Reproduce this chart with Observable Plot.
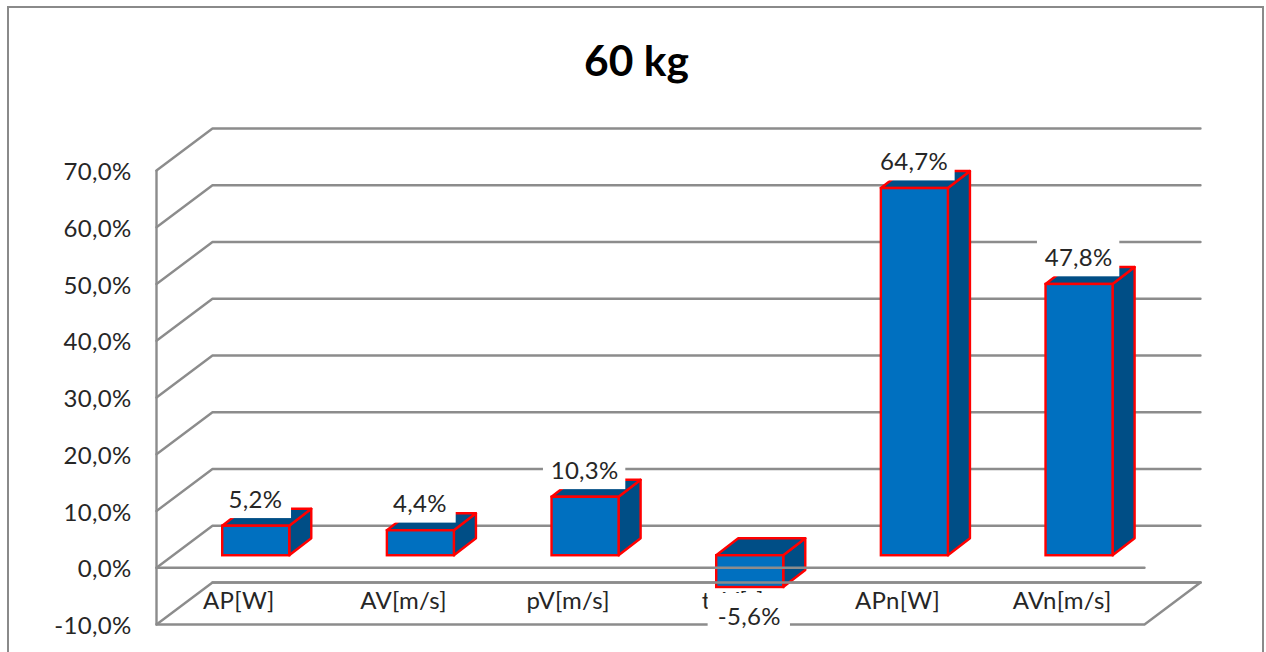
<!DOCTYPE html>
<html>
<head>
<meta charset="utf-8">
<script src="https://cdn.jsdelivr.net/npm/d3@7"></script>
<script src="https://cdn.jsdelivr.net/npm/@observablehq/plot@0.6"></script>
<style>
  html, body { margin: 0; padding: 0; background: #fff; }
  #chart { position: relative; width: 1266px; height: 652px; overflow: hidden; font-family: Lato, sans-serif; }
  #frame { position: absolute; left: 7px; top: 6px; width: 1256.5px; height: 700px; border: 2.5px solid #8a8a8a; box-sizing: border-box; pointer-events: none; }
  #title { height: 100px; text-align: center; font: 700 42.5px/120px Lato, sans-serif; color: #000; width: 1273px; overflow: hidden; }
  svg { display: block; }
</style>
</head>
<body>
<div id="chart">
  <div id="frame"></div>
  <div id="title">60 kg</div>
</div>
<script>
const categories = ["AP[W]", "AV[m/s]", "pV[m/s]", "tpV[s]", "APn[W]", "AVn[m/s]"];
const values = [5.2, 4.4, 10.3, -5.6, 64.7, 47.8];
const yTicks = [-10, 0, 10, 20, 30, 40, 50, 60, 70];

// 3D projection, expressed in the units of the x (category) and y (percent) scales
const wallDx = 0.34, wallDy = 7.4;     // depth of the whole chart box
const planeDy = 2.116;                 // front plane of the bars
const barDx = 0.134, barDy = 3.0;      // depth of one bar
const barLeft = 0.402, barWidth = 0.407;

const fmt = v => v.toFixed(1).replace(".", ",") + "%";

const bars = categories.map((name, i) => {
  const l = i + barLeft, r = l + barWidth;
  return {name, i, v: values[i], l, r, base: planeDy, top: values[i] + planeDy};
});

const wall = yTicks.flatMap(t => [
  {t, x: 0, y: t},
  {t, x: wallDx, y: t + wallDy},
  {t, x: 6 + wallDx, y: t + wallDy}
]);
const floorEdge = [
  {x: 0, y: -10}, {x: 6, y: -10}, {x: 6 + wallDx, y: -10 + wallDy}
];
const overlayLines = [
  {k: "zero", x: 0, y: 0}, {k: "zero", x: 6, y: 0},
  {k: "back", x: wallDx, y: -10 + wallDy}, {k: "back", x: 6 + wallDx, y: -10 + wallDy}
];

const sideRows = bars.flatMap(b => [
  {i: b.i, x: b.r, y1: b.base, y2: b.top},
  {i: b.i, x: b.r + barDx, y1: b.base + barDy, y2: b.top + barDy}
]);
const topRows = bars.flatMap(b => {
  const upper = Math.max(b.base, b.top);
  return [
    {i: b.i, x1: b.l, x2: b.r, y: upper},
    {i: b.i, x1: b.l + barDx, x2: b.r + barDx, y: upper + barDy}
  ];
});
const labels = bars.map(b => {
  const text = fmt(b.v), half = text.length <= 4 ? 0.22 : 0.25;
  const neg = b.v < 0;
  return {
    text, x: b.i + 0.6,
    y: neg ? b.top - 5.3 : b.top + 4.6,
    x1: b.i + 0.6 - half, x2: b.i + 0.6 + half,
    y1: neg ? b.top - 1.05 : b.top + 1.35,
    y2: neg ? b.top - 8.5 : b.top + 7.9
  };
});

const gray = "#8c8c8c", gridW = 2.4, ink = "#262626";

const plot = Plot.plot({
  width: 1266, height: 552,
  marginLeft: 156, marginRight: 122, marginTop: 70, marginBottom: 28,
  x: {domain: [0, 6], axis: null},
  y: {domain: [-10, 70]},
  style: {fontFamily: "Lato, sans-serif", background: "transparent", letterSpacing: "0.3px"},
  marks: [
    Plot.line(wall, {x: "x", y: "y", z: "t", stroke: gray, strokeWidth: gridW}),
    Plot.line(floorEdge, {x: "x", y: "y", stroke: gray, strokeWidth: gridW}),
    Plot.ruleX([0], {y1: -10, y2: 70, stroke: gray, strokeWidth: gridW}),
    Plot.axisY({
      ticks: yTicks, tickFormat: fmt, tickSize: 0, tickPadding: 25, label: null,
      fontSize: 24, color: ink, textAnchor: "end", dy: 2
    }),
    Plot.text(categories, {
      x: (d, i) => i + 0.5, y: -6, text: d => d,
      fontSize: 24, fill: ink
    }),
    Plot.area(sideRows, {x1: "x", x2: "x", y1: "y1", y2: "y2", z: "i", fill: "#004E86", stroke: "#ff0000", strokeWidth: 2.4, strokeLinejoin: "round"}),
    Plot.area(topRows, {x1: "x1", x2: "x2", y1: "y", y2: "y", z: "i", fill: "#004E86", stroke: "#ff0000", strokeWidth: 2.4, strokeLinejoin: "round"}),
    Plot.rect(bars, {x1: "l", x2: "r", y1: "base", y2: "top", fill: "#0070C0", stroke: "#ff0000", strokeWidth: 2.4}),
    Plot.line(overlayLines, {x: "x", y: "y", z: "k", stroke: gray, strokeWidth: gridW}),
    Plot.rect(labels, {x1: "x1", x2: "x2", y1: "y1", y2: "y2", fill: "white"}),
    Plot.text(labels, {x: "x", y: "y", text: "text", fontSize: 24, fill: ink})
  ]
});
document.getElementById("chart").appendChild(plot);
</script>
</body>
</html>
